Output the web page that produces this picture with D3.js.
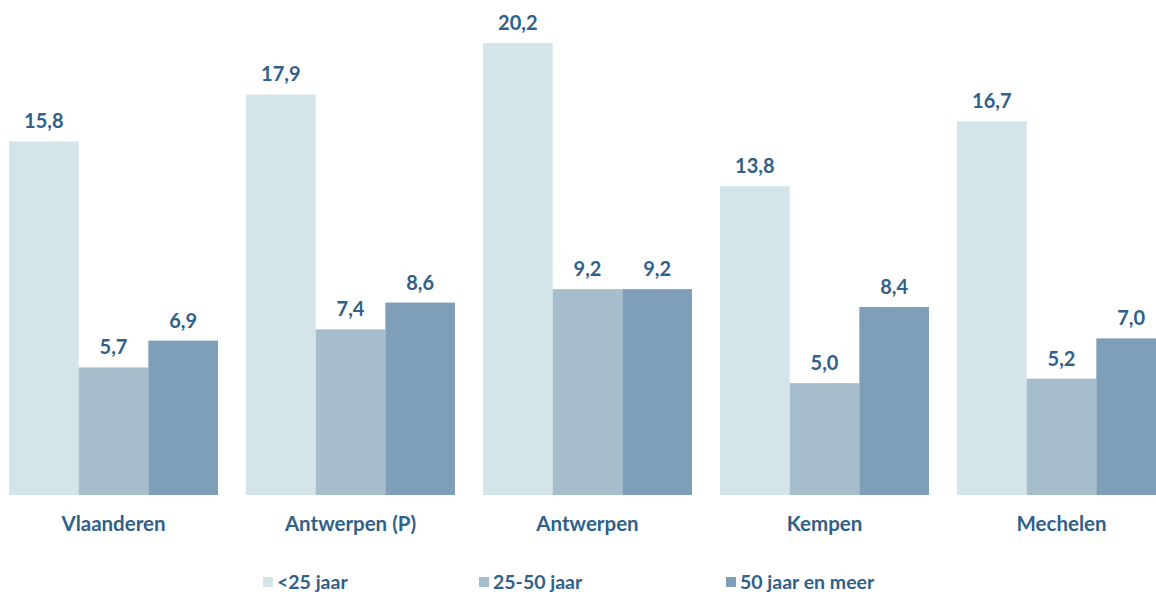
<!DOCTYPE html>
<html><head><meta charset="utf-8">
<script src="https://cdn.jsdelivr.net/npm/d3@7"></script>
<style>body{margin:0;background:#fff;overflow:hidden}</style>
</head><body>
<svg id="c" width="1156" height="592"></svg>
<script>
const categories = ["Vlaanderen","Antwerpen (P)","Antwerpen","Kempen","Mechelen"];
const seriesNames = ["<25 jaar","25-50 jaar","50 jaar en meer"];
const under25 = [15.8,17.9,20.2,13.8,16.7];
const age25to50 = [5.7,7.4,9.2,5.0,5.2];
const over50 = [6.9,8.6,9.2,8.4,7.0];
const colors = ["#D4E5EA","#A6BDCC","#7F9FB8"];
const series = [under25, age25to50, over50];

const svg = d3.select("#c");
const font = "Lato, 'Open Sans', sans-serif";
const textColor = "#2F6189";
const x0 = d3.scaleBand().domain(categories).range([9, 9+237*5-28]).paddingInner(28/237).paddingOuter(0);
const x1 = d3.scaleBand().domain(d3.range(3)).range([0, x0.bandwidth()]);
const y = d3.scaleLinear().domain([0, 20.2]).range([495, 43]);

const g = svg.append("g");
categories.forEach((c, i) => {
  series.forEach((s, j) => {
    const v = s[i];
    g.append("rect")
      .attr("x", x0(c) + x1(j)).attr("width", x1.bandwidth())
      .attr("y", y(v)).attr("height", y(0) - y(v))
      .attr("fill", colors[j]);
    g.append("text")
      .attr("x", x0(c) + x1(j) + x1.bandwidth()/2)
      .attr("y", y(v) - 13)
      .attr("text-anchor", "middle")
      .attr("font-family", font).attr("font-weight", "bold").attr("font-size", 20)
      .attr("fill", textColor)
      .text(v.toFixed(1).replace(".", ","));
  });
});

const xAxis = svg.append("g").attr("transform", "translate(0,495)")
  .call(d3.axisBottom(x0).tickSize(0).tickPadding(21));
xAxis.select(".domain").remove();
xAxis.selectAll("text").attr("font-family", font).attr("font-weight", "bold")
  .attr("font-size", 20.5).attr("fill", textColor).attr("dy", "0.71em");

const legendX = [263, 479, 726];
seriesNames.forEach((n, j) => {
  const lg = svg.append("g").attr("transform", `translate(${legendX[j]},577)`);
  lg.append("rect").attr("width", 10).attr("height", 10).attr("fill", colors[j]);
  lg.append("text").attr("x", 14).attr("y", 12)
    .attr("font-family", font).attr("font-weight", "bold").attr("font-size", 19.5)
    .attr("fill", textColor).text(n);
});
</script>
</body></html>
